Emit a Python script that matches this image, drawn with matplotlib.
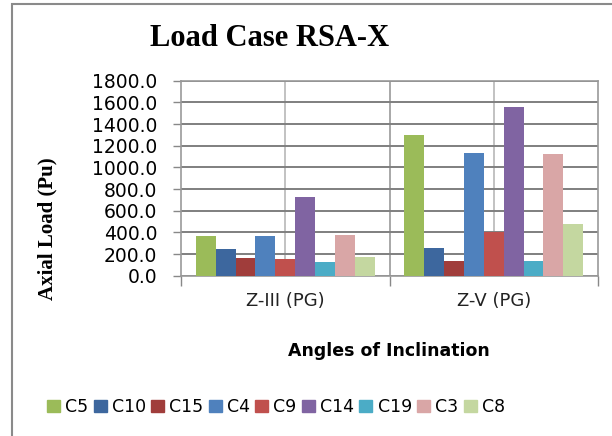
import matplotlib.pyplot as plt
import matplotlib.patches as mpatches
import numpy as np

categories = ["Z-III (PG)", "Z-V (PG)"]
series = ["C5", "C10", "C15", "C4", "C9", "C14", "C19", "C3", "C8"]
values = {
    "C5": [365, 1302],
    "C10": [243, 252],
    "C15": [160, 138],
    "C4": [365, 1133],
    "C9": [150, 400],
    "C14": [725, 1553],
    "C19": [128, 138],
    "C3": [372, 1121],
    "C8": [176, 476],
}
colors = ["#9BBB59", "#3D679E", "#A03D3B", "#4F81BD", "#C0504D",
          "#8064A2", "#4BACC6", "#D9A6A6", "#C4D7A0"]

fig = plt.figure(figsize=(6.12, 4.36), dpi=100)
ax = fig.add_axes([0.2958, 0.3677, 0.6814, 0.4472])

# outer chart frame
fig.patches.append(mpatches.Rectangle((12 / 612, -0.05), 1.0, 1.05 - 4.5 / 436,
                                      transform=fig.transFigure, fill=False,
                                      edgecolor="#8a8a8a", linewidth=1.5))

n = len(series)
bw = 1.0 / (n + 1.5)
x = np.arange(len(categories))
for i, s in enumerate(series):
    off = (i - (n - 1) / 2) * bw
    ax.bar(x + off, values[s], width=bw, color=colors[i], label=s, zorder=3)

ax.set_xlim(-0.5, 1.5)
ax.set_ylim(0, 1800)
ax.set_yticks(np.arange(0, 1801, 200))
ax.set_yticklabels([f"{v:.1f}" for v in np.arange(0, 1801, 200)],
                   fontsize=13.5, family="DejaVu Sans")
ax.set_xticks([-0.5, 0.5, 1.5])
ax.set_xticklabels([])
ax.tick_params(axis="x", length=7, color="#888888", width=1)
ax.tick_params(axis="y", length=6, color="#888888", width=1, pad=11)
for c, lab in zip(x, categories):
    ax.text(c, -0.13, lab, transform=ax.get_xaxis_transform(), ha="center",
            va="center", fontsize=13, family="DejaVu Sans", color="#222222")

ax.grid(axis="y", color="#7f7f7f", linewidth=1.4, zorder=0)
for gx in [0, 0.5, 1]:
    ax.axvline(gx, color="#b8b8b8" if gx != 0.5 else "#999999",
               linewidth=1.2, zorder=0)
for sp in ax.spines.values():
    sp.set_color("#999999")
    sp.set_linewidth(1.2)

fig.text(270 / 612, 1 - 38 / 436, "Load Case RSA-X", ha="center", va="center",
         fontsize=22, fontweight="bold", family="Liberation Serif")
fig.text(47 / 612, 1 - 229 / 436, "Axial Load (Pu)", rotation=90, ha="center",
         va="center", fontsize=15, fontweight="bold", family="Liberation Serif")
fig.text(389 / 612, 1 - 351 / 436, "Angles of Inclination", ha="center",
         va="center", fontsize=12.5, fontweight="bold", family="DejaVu Sans")

handles = [mpatches.Patch(color=c) for c in colors]
fig.legend(handles, series, loc="center", bbox_to_anchor=(276 / 612, 1 - 407 / 436),
           ncol=n, frameon=False, handlelength=0.75, handleheight=0.75,
           handletextpad=0.3, columnspacing=0.3, prop={"family": "DejaVu Sans", "size": 12.5})

fig.savefig("out.png", dpi=100)
